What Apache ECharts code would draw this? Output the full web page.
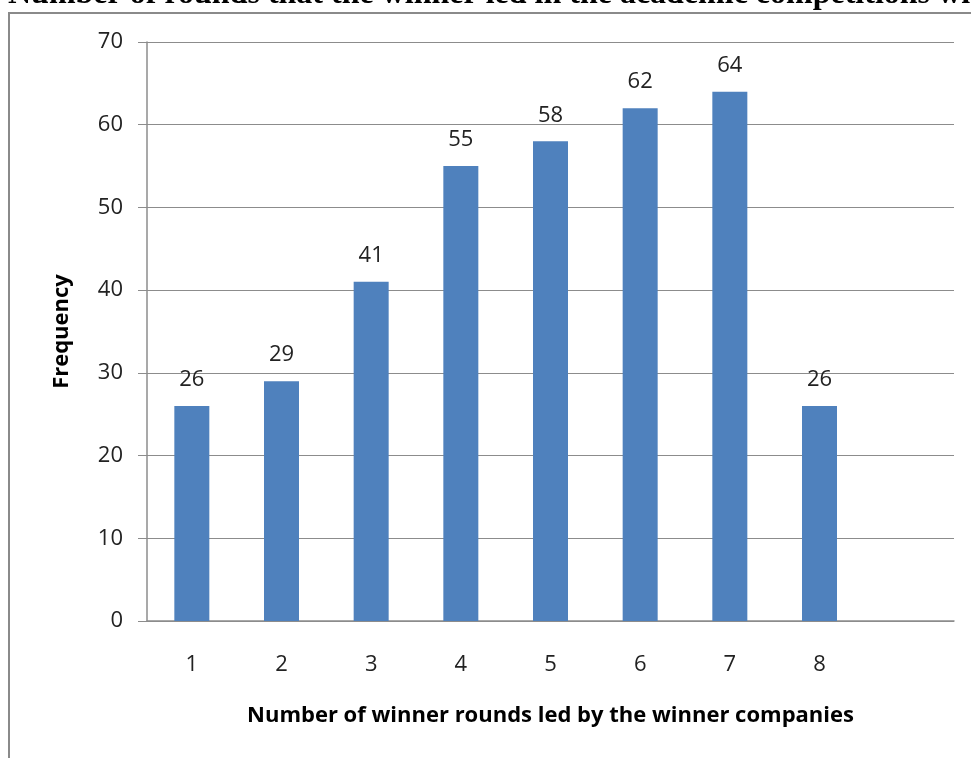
<!DOCTYPE html>
<html><head><meta charset="utf-8">
<script src="https://cdn.jsdelivr.net/npm/echarts@6/dist/echarts.min.js"></script>
<style>html,body{margin:0;padding:0;background:#fff;}#c{width:971px;height:758px;}</style>
</head><body><div id="c"></div>
<script>
const titleText = 'Number of rounds that the winner led in the academic competitions with';
const categories = ['1','2','3','4','5','6','7','8',''];
const frequency = [26, 29, 41, 55, 58, 62, 64, 26, null];
const yTicks = {min: 0, max: 70, interval: 10};
const xName = 'Number of winner rounds led by the winner companies';
const yName = 'Frequency';

const chart = echarts.init(document.getElementById('c'), null, {renderer: 'canvas'});
chart.setOption({
  animation: false,
  backgroundColor: '#fff',
  graphic: [
    {type: 'rect', shape: {x: 9, y: 13, width: 1000, height: 800}, style: {fill: 'none', stroke: '#8a8a8a', lineWidth: 2}},
    {type: 'text', x: 8, y: 11, style: {text: titleText, font: 'bold 32px "Liberation Serif"', fill: '#000', verticalAlign: 'bottom'}}
  ],
  grid: {left: 147, right: 17, top: 42, bottom: 137, containLabel: false},
  xAxis: {
    type: 'category', data: categories,
    axisLine: {lineStyle: {color: '#8c8c8c', width: 1.5}},
    axisTick: {show: false},
    axisLabel: {color: '#222', fontFamily: 'Open Sans', fontSize: 22, margin: 33},
    name: xName, nameLocation: 'middle', nameGap: 84,
    nameTextStyle: {color: '#000', fontFamily: 'Open Sans', fontWeight: 'bold', fontSize: 22}
  },
  yAxis: {
    type: 'value', min: yTicks.min, max: yTicks.max, interval: yTicks.interval,
    axisLine: {show: true, lineStyle: {color: '#8c8c8c', width: 1.5}},
    axisTick: {show: true, length: 9, lineStyle: {color: '#8c8c8c'}},
    axisLabel: {color: '#222', fontFamily: 'Open Sans', fontSize: 22, margin: 24},
    splitLine: {lineStyle: {color: '#8c8c8c', width: 1.2}},
    name: yName, nameLocation: 'middle', nameGap: 74, nameRotate: 90,
    nameTextStyle: {color: '#000', fontFamily: 'Open Sans', fontWeight: 'bold', fontSize: 22}
  },
  series: [{
    type: 'bar', data: frequency, barWidth: 35,
    itemStyle: {color: '#4F81BD'},
    label: {show: true, position: 'top', distance: 15, color: '#222', fontFamily: 'Open Sans', fontSize: 22}
  }]
});
</script></body></html>
